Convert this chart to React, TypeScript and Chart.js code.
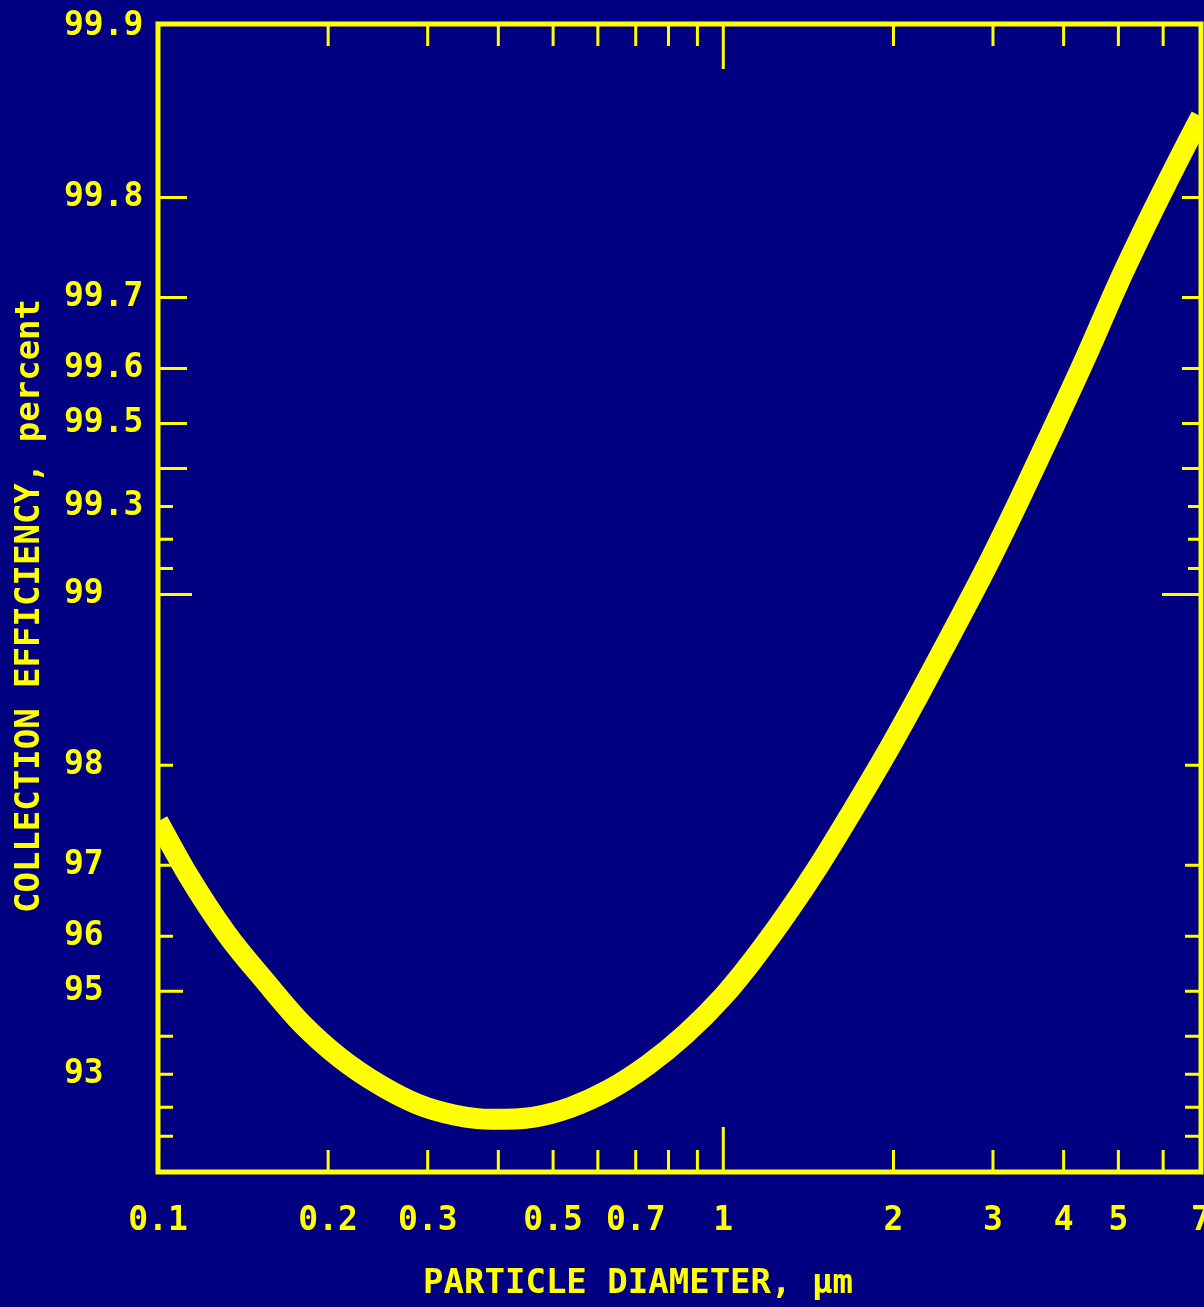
import React, { useEffect, useRef } from 'react';
import { Chart, registerables } from 'chart.js';

Chart.register(...registerables);

// Particle diameter (µm) and collection efficiency (%)
const diameters = [
  0.1, 0.113, 0.132, 0.155, 0.18, 0.21, 0.247, 0.288, 0.336, 0.39, 0.46, 0.537,
  0.627, 0.735, 0.857, 1.0, 1.125, 1.29, 1.48, 1.69, 1.94, 2.22, 2.54, 2.92,
  3.33, 3.81, 4.38, 5.0, 5.73, 6.58, 7.0,
];
const efficiency = [
  97.49, 96.88, 96.05, 95.19, 94.29, 93.45, 92.69, 92.1, 91.74, 91.6, 91.67, 92.0,
  92.54, 93.26, 94.05, 94.9, 95.58, 96.33, 97.01, 97.59, 98.09, 98.5, 98.833, 99.104,
  99.314, 99.484, 99.618, 99.717, 99.787, 99.838, 99.856,
];

// X axis (log) labels and tick marks
const xTickValues = [0.1, 0.2, 0.3, 0.5, 0.7, 1, 2, 3, 4, 5, 7];
const xTickLabels = ['0.1', '0.2', '0.3', '0.5', '0.7', '1', '2', '3', '4', '5', '7'];
const xMarkValues = [0.2, 0.3, 0.4, 0.5, 0.6, 0.7, 0.8, 0.9, 1, 2, 3, 4, 5, 6];

// Y axis: log of penetration (100 - efficiency), labelled as efficiency
const yTickPenetration = [0.1, 0.2, 0.3, 0.4, 0.5, 0.7, 1, 2, 3, 4, 5, 7];
const yTickLabels = ['99.9', '99.8', '99.7', '99.6', '99.5', '99.3', '99', '98', '97', '96', '95', '93'];
const yMarkPenetration = [0.2, 0.3, 0.4, 0.5, 0.6, 0.7, 0.8, 0.9, 1, 2, 3, 4, 5, 6, 7, 8, 9];

const xTitle = 'PARTICLE DIAMETER, \u03bcm';
const yTitle = 'COLLECTION EFFICIENCY, percent';

const NAVY = '#000080';
const YELLOW = '#ffff00';
const FONT = "'DejaVu Sans Mono', 'Liberation Mono', monospace";

const framePlugin = {
  id: 'framePlugin',
  beforeDraw(chart: any) {
    const { ctx, width, height } = chart;
    ctx.save();
    ctx.fillStyle = NAVY;
    ctx.fillRect(0, 0, width, height);
    ctx.restore();
  },
  afterDraw(chart: any) {
    const { ctx, chartArea: a } = chart;
    const xs = chart.scales.x;
    const ys = chart.scales.y;
    ctx.save();
    ctx.strokeStyle = YELLOW;
    ctx.fillStyle = YELLOW;

    // inward tick marks
    ctx.lineWidth = 3;
    ctx.beginPath();
    xMarkValues.forEach((v) => {
      const px = xs.getPixelForValue(v);
      const len = v === 1 ? 45 : 22;
      ctx.moveTo(px, a.bottom);
      ctx.lineTo(px, a.bottom - len);
      ctx.moveTo(px, a.top);
      ctx.lineTo(px, a.top + len);
    });
    yMarkPenetration.forEach((v) => {
      const py = ys.getPixelForValue(v);
      let left = 15;
      let right = 16;
      if (v === 1) { left = 34; right = 39; }
      else if (v < 0.65) { left = 29; right = 19; }
      else if (v < 1) { left = 15; right = 13; }
      else if (v === 5) { left = 25; }
      ctx.moveTo(a.left, py);
      ctx.lineTo(a.left + left, py);
      ctx.moveTo(a.right, py);
      ctx.lineTo(a.right - right, py);
    });
    ctx.stroke();

    // frame
    ctx.lineWidth = 5;
    ctx.strokeRect(a.left, a.top, a.right - a.left, a.bottom - a.top);

    // axis titles
    ctx.font = `bold 34px ${FONT}`;
    ctx.textAlign = 'center';
    ctx.textBaseline = 'middle';
    ctx.fillText(xTitle, 638, 1284);
    ctx.save();
    ctx.translate(30, 606);
    ctx.rotate(-Math.PI / 2);
    ctx.fillText(yTitle, 0, 0);
    ctx.restore();
    ctx.restore();
  },
};

export default function App() {
  const canvasRef = useRef<HTMLCanvasElement | null>(null);

  useEffect(() => {
    document.body.style.margin = '0';
    document.body.style.background = NAVY;
    const canvas = canvasRef.current;
    if (!canvas) return;
    const points = diameters.map((d, i) => ({ x: d, y: 100 - efficiency[i] }));
    const chart = new Chart(canvas, {
      type: 'line',
      data: {
        datasets: [
          {
            data: points,
            borderColor: YELLOW,
            borderWidth: 21,
            pointRadius: 0,
            cubicInterpolationMode: 'monotone',
            fill: false,
            clip: 0,
          } as any,
        ],
      },
      options: {
        animation: false,
        responsive: false,
        devicePixelRatio: 1,
        layout: { padding: { left: 64, top: 24, right: 3, bottom: 0 } },
        plugins: { legend: { display: false }, tooltip: { enabled: false } },
        scales: {
          x: {
            type: 'logarithmic',
            position: 'bottom',
            min: 0.1,
            max: 7,
            afterBuildTicks: (s: any) => {
              s.ticks = xTickValues.map((v) => ({ value: v }));
            },
            afterFit: (s: any) => {
              s.height = 135;
              s.paddingLeft = 0;
              s.paddingRight = 0;
            },
            ticks: {
              autoSkip: false,
              maxRotation: 0,
              minRotation: 0,
              color: YELLOW,
              padding: 30,
              font: { family: FONT, size: 33, weight: 'bold' },
              callback: (_v: any, i: number) => xTickLabels[i],
            },
            grid: { display: false, drawTicks: false },
            border: { display: false },
          },
          y: {
            type: 'logarithmic',
            position: 'left',
            reverse: true,
            min: 0.099,
            max: 10.4,
            afterBuildTicks: (s: any) => {
              s.ticks = yTickPenetration.map((v) => ({ value: v }));
            },
            afterFit: (s: any) => {
              s.width = 94;
              s.paddingTop = 0;
              s.paddingBottom = 0;
            },
            ticks: {
              autoSkip: false,
              crossAlign: 'far',
              color: YELLOW,
              padding: 8,
              font: { family: FONT, size: 33, weight: 'bold' },
              callback: (_v: any, i: number) => yTickLabels[i],
            },
            grid: { display: false, drawTicks: false },
            border: { display: false },
          },
        },
      } as any,
      plugins: [framePlugin],
    });
    return () => chart.destroy();
  }, []);

  return (
    <canvas
      ref={canvasRef}
      width={1204}
      height={1307}
      style={{ display: 'block', width: 1204, height: 1307, background: NAVY }}
    />
  );
}
